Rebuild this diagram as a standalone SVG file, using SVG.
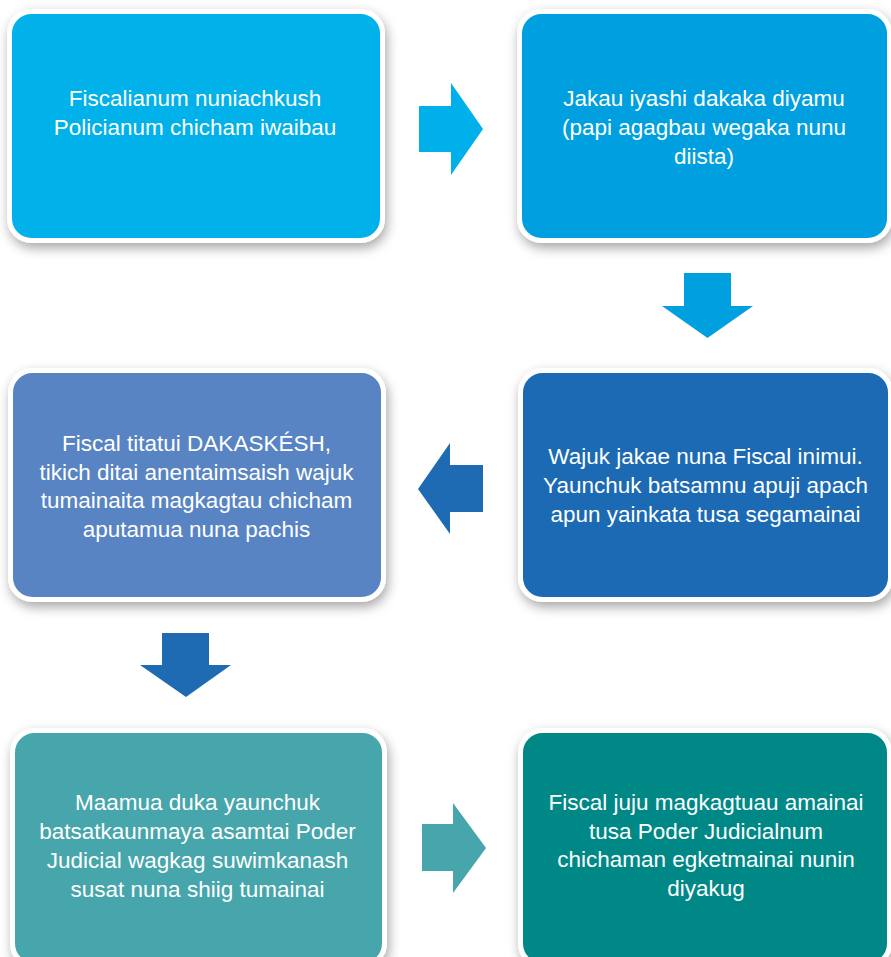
<svg xmlns="http://www.w3.org/2000/svg" width="891" height="957" viewBox="0 0 891 957">
<defs>
<filter id="sh" x="-10%" y="-10%" width="125%" height="130%">
<feDropShadow dx="2" dy="5" stdDeviation="6" flood-color="#000" flood-opacity="0.35"/>
</filter>
</defs>
<style>
.box{stroke:#fff;stroke-width:5;filter:url(#sh)}
.t{font-family:"Liberation Sans",Arial,sans-serif;font-size:22.5px;fill:#fff;text-anchor:middle}
</style>
<rect width="891" height="957" fill="#fff"/>
<g id="connectors">
<path d="M419,106 H451 V83 L483,129 L451,175 V152 H419 Z" fill="#00B0EA"/>
<path d="M684,273 H731 V306 H753 L707.5,338 L662,306 H684 Z" fill="#009FE0"/>
<path d="M483,465 H450 V443 L418,489 L450,534 V512 H483 Z" fill="#1F6BB3"/>
<path d="M162,633 H209 V665 H231 L186,697 L140,665 H162 Z" fill="#1F6BB3"/>
<path d="M422,824 H453 V803 L486,848 L453,893 V871 H422 Z" fill="#46A6AB"/>
</g>
<g id="n1">
<rect class="box" x="9.5" y="11.5" width="373" height="229" rx="22" fill="#00B1EA"/>
<text class="t" x="195" y="106">Fiscalianum nuniachkush</text>
<text class="t" x="195" y="135">Policianum chicham iwaibau</text>
</g>
<g id="n2">
<rect class="box" x="519.5" y="11.5" width="370" height="229" rx="22" fill="#009FE0"/>
<text class="t" x="704" y="106">Jakau iyashi dakaka diyamu</text>
<text class="t" x="704" y="135">(papi agagbau wegaka nunu</text>
<text class="t" x="704" y="164">diista)</text>
</g>
<g id="n3">
<rect class="box" x="520.5" y="370.5" width="370" height="229" rx="22" fill="#1F6BB3"/>
<text class="t" x="705.5" y="464">Wajuk jakae nuna Fiscal inimui.</text>
<text class="t" x="705.5" y="493">Yaunchuk batsamnu apuji apach</text>
<text class="t" x="705.5" y="522">apun yainkata tusa segamainai</text>
</g>
<g id="n4">
<rect class="box" x="10.5" y="370.5" width="373" height="229" rx="22" fill="#5884C4"/>
<text class="t" x="196.5" y="451">Fiscal titatui DAKASKÉSH,</text>
<text class="t" x="196.5" y="479.5">tikich ditai anentaimsaish wajuk</text>
<text class="t" x="196.5" y="508">tumainaita magkagtau chicham</text>
<text class="t" x="196.5" y="536.5">aputamua nuna pachis</text>
</g>
<g id="n5">
<rect class="box" x="12.5" y="730.5" width="372" height="235" rx="22" fill="#46A6AB"/>
<text class="t" x="197.5" y="810">Maamua duka yaunchuk</text>
<text class="t" x="197.5" y="839">batsatkaunmaya asamtai Poder</text>
<text class="t" x="197.5" y="868">Judicial wagkag suwimkanash</text>
<text class="t" x="197.5" y="897">susat nuna shiig tumainai</text>
</g>
<g id="n6">
<rect class="box" x="520.5" y="730.5" width="369" height="235" rx="22" fill="#028887"/>
<text class="t" x="706" y="810">Fiscal juju magkagtuau amainai</text>
<text class="t" x="706" y="838.5">tusa Poder Judicialnum</text>
<text class="t" x="706" y="867">chichaman egketmainai nunin</text>
<text class="t" x="706" y="895.5">diyakug</text>
</g>
</svg>
